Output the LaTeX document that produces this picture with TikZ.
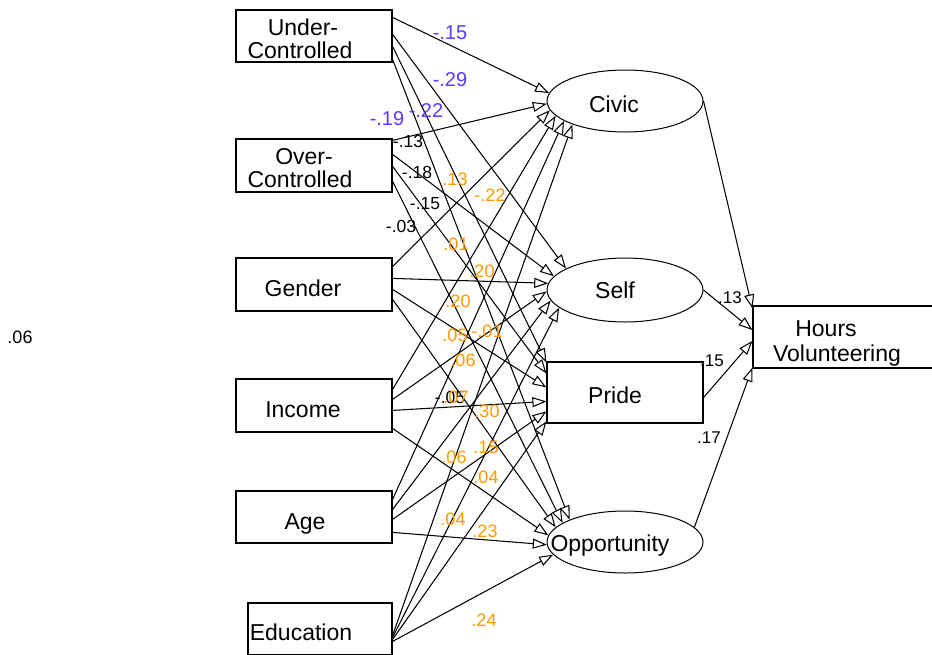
\documentclass[tikz,border=0pt]{standalone}
\usepackage{fontspec}
\setmainfont{Liberation Sans}
\usetikzlibrary{arrows.meta,calc,shapes.geometric}
\definecolor{cblue}{RGB}{85,60,255}
\definecolor{corange}{RGB}{255,153,0}
\begin{document}
\begin{tikzpicture}[x=1pt,y=-1pt,
  box/.style={draw, line width=1.2pt, minimum width=156pt, minimum height=52pt, inner sep=0pt},
  med/.style={draw, ellipse, line width=1pt, minimum width=156pt, minimum height=62pt, inner sep=0pt},
  pth/.style={line width=1.05pt, -{Triangle[open,length=14pt,width=10pt]}},
  txt/.style={font=\fontsize{23}{25}\selectfont, inner sep=0pt, anchor=base},
  lb/.style={font=\fontsize{20}{21}\selectfont, text=cblue, inner sep=0pt},
  lk/.style={font=\fontsize{17.5}{18}\selectfont, inner sep=0pt},
  lo/.style={font=\fontsize{18}{19}\selectfont, text=corange, inner sep=0pt},
  lh/.style={font=\fontsize{17}{18}\selectfont, inner sep=0pt}]
\useasboundingbox (0,0) rectangle (932,654);
\clip (0,0) rectangle (932,654);

% predictor boxes
\node[box] (uc) at (314,36) {};
\node[box, minimum height=53pt] (oc) at (314,165.5) {};
\node[box, minimum height=53pt] (gen) at (314,284.5) {};
\node[box, minimum height=53pt] (inc) at (314,405.5) {};
\node[box] (age) at (314,517) {};
\node[box, minimum width=144pt] (edu) at (320,629) {};

\node[txt] (uc-t1) at (303,35) {Under-};
\node[txt] (uc-t2) at (300,58) {Controlled};
\node[txt] (oc-t1) at (304,164) {Over-};
\node[txt] (oc-t2) at (300,187) {Controlled};
\node[txt] (gen-t) at (303,296) {Gender};
\node[txt] (inc-t) at (303,417) {Income};
\node[txt] (age-t) at (305,529) {Age};
\node[txt] (edu-t) at (301,640) {Education};

% mediators
\node[med] (civic) at (625,101) {};
\node[med, minimum height=64pt] (self) at (625,290) {};
\node[box, minimum height=61pt] (pride) at (625,392.5) {};
\node[med] (opp) at (625,542) {};

\node[txt] (civic-t) at (614,112) {Civic};
\node[txt] (self-t) at (615,298) {Self};
\node[txt] (pride-t) at (615,403) {Pride};
\node[txt] (opp-t) at (610,551) {Opportunity};

% outcome
\node[box, minimum width=192pt, minimum height=62pt] (hours) at (849,337) {};
\node[txt] (hours-t1) at (826,336) {Hours};
\node[txt] (hours-t2) at (837,361) {Volunteering};

% paths to Civic
\draw[pth] ($(uc.north east)+(0,8)$) -- (civic.174);
\draw[pth] ($(oc.north east)+(0,2)$) -- (civic.182);
\draw[pth] ($(gen.north east)+(0,9)$) -- (civic.187);
\draw[pth] ($(inc.north east)+(0,11)$) -- (civic.192);
\draw[pth] ($(age.north east)+(0,9)$) -- (civic.198);
\draw[pth] ($(edu.north east)+(0,33)$) -- (civic.204);
% paths to Self
\draw[pth] ($(uc.north east)+(0,25)$) -- (self.160);
\draw[pth] ($(oc.north east)+(0,16)$) -- (self.169);
\draw[pth] ($(gen.north east)+(0,21)$) -- (self.175);
\draw[pth] ($(inc.north east)+(0,21)$) -- (self.181);
\draw[pth] ($(age.north east)+(0,19)$) -- (self.188);
\draw[pth] ($(edu.north east)+(0,35)$) -- (self.195);
% paths to Pride
\draw[pth] ($(uc.north east)+(0,37)$) -- ($(pride.north west)+(0,1)$);
\draw[pth] ($(oc.north east)+(0,28)$) -- ($(pride.north west)+(0,12)$);
\draw[pth] ($(gen.north east)+(0,32)$) -- ($(pride.north west)+(0,26)$);
\draw[pth] ($(inc.north east)+(0,32)$) -- ($(pride.north west)+(0,40)$);
\draw[pth] ($(age.north east)+(0,29)$) -- ($(pride.north west)+(0,50)$);
\draw[pth] ($(edu.north east)+(0,37)$) -- ($(pride.north west)+(0,60)$);
% paths to Opportunity
\draw[pth] ($(uc.north east)+(0,50)$) -- (opp.158);
\draw[pth] ($(oc.north east)+(0,43)$) -- (opp.163);
\draw[pth] ($(gen.north east)+(0,42)$) -- (opp.168);
\draw[pth] ($(inc.north east)+(0,50)$) -- (opp.175);
\draw[pth] ($(age.north east)+(0,42)$) -- (opp.182);
\draw[pth] ($(edu.north east)+(0,39)$) -- (opp.190);
% mediators to hours
\draw[pth] (civic.east) -- ($(hours.north west)+(0,3)$);
\draw[pth] (self.east) -- ($(hours.west)+(0,-7)$);
\draw[pth] ($(pride.east)+(0,5)$) -- ($(hours.west)+(0,4)$);
\draw[pth] (opp.12) -- ($(hours.south west)+(0,-1)$);

% coefficient labels
\node[lb] (b1) at (450,33) {-.15};
\node[lb] (b2) at (450,80) {-.29};
\node[lb] (b3) at (426,111) {-.22};
\node[lb] (b4) at (387,119) {-.19};

\node[lk] (k1) at (408,141) {-.13};
\node[lk] (k2) at (417,172) {-.18};
\node[lk] (k3) at (425,204) {-.15};
\node[lk] (k4) at (401,226) {-.03};

\node[lo] (o1) at (455,179) {.13};
\node[lo] (o2) at (490,195) {-.22};
\node[lo] (o3) at (456,244) {.01};
\node[lo] (o4) at (482,271) {.20};
\node[lo] (o5) at (458,301) {.20};
\node[lo] (o6) at (455,335) {.05};
\node[lo] (o7) at (487,331) {-.01};
\node[lo] (o8) at (463,360) {.06};
\node[lk] (k5) at (450,397) {-.05};
\node[lo] (o9) at (456,397) {.07};
\node[lo] (o10) at (487,411) {.30};
\node[lo] (o11) at (486,447) {.15};
\node[lo] (o12) at (454,457) {.06};
\node[lo] (o13) at (486,477) {.04};
\node[lo] (o14) at (453,519) {.04};
\node[lo] (o15) at (485,531) {.23};
\node[lo] (o16) at (484,620) {.24};

\node[lh] (h1) at (730,298) {.13};
\node[lh] (h2) at (712,361) {.15};
\node[lh] (h3) at (709,438) {.17};
\node[lo, text=black] (r2) at (20,337) {.06};
\end{tikzpicture}
\end{document}
